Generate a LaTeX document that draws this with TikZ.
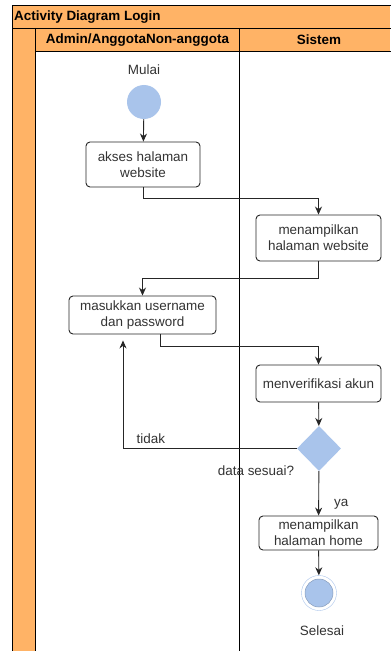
\documentclass[tikz,border=0pt]{standalone}
\usepackage{fontspec}
\setmainfont{Liberation Sans}
\usetikzlibrary{shapes.geometric,arrows.meta}
\definecolor{laneorange}{HTML}{FFB366}
\definecolor{stateblue}{HTML}{A9C4EB}
\definecolor{textgray}{HTML}{333333}
\tikzset{
  activity/.style={draw=black!85, fill=white, rounded corners=4bp, align=center,
    text=textgray, inner sep=0pt, line width=0.9bp},
  startdot/.style={circle, fill=stateblue, minimum size=34bp, inner sep=0pt},
  enddot/.style={circle, draw=stateblue, fill=white, minimum size=35bp, inner sep=0pt,
    path picture={\fill[stateblue] (path picture bounding box.center) circle (14bp);
      \draw[stateblue!80!black, line width=0.5bp] (path picture bounding box.center) circle (14bp);}},
  decision/.style={diamond, fill=stateblue, minimum width=44bp, minimum height=45bp, inner sep=0pt},
  flow/.style={-{Stealth[length=8bp,width=7bp]}, line width=0.9bp, black!85},
  caption/.style={text=textgray, inner sep=0pt},
  lanehead/.style={font=\fontsize{13.5}{16}\selectfont\bfseries, inner sep=0pt}
}
\begin{document}
\begin{tikzpicture}[x=1bp, y=-1bp, font=\fontsize{13.5}{16}\selectfont]
      \def\laneline{239}
      \def\poolbottom{652}

      \useasboundingbox (0, 0) rectangle (390, 651) ;
      \fill[white] (0, 0) rectangle (390, 651) ;

      \fill[laneorange] (12, 5) rectangle (390, 28) ;
      \fill[laneorange] (12, 28) rectangle (35, \poolbottom) ;
      \fill[laneorange] (35, 28) rectangle (390, 51) ;
      \draw[line width=0.9bp] (391, 5) -- (12, 5) -- (12, \poolbottom) ;
      \draw[line width=0.9bp] (12, 28) -- (391, 28) ;
      \draw[line width=0.9bp] (35, 28) -- (35, \poolbottom) ;
      \draw[line width=0.9bp] (35, 51) -- (391, 51) ;
      \draw[line width=0.9bp] (\laneline, 28) -- (\laneline, \poolbottom) ;

      \node[lanehead, anchor=west] (title) at (14, 17) {Activity Diagram Login} ;
      \node[lanehead] (laneuser) at (137.5, 40) {Admin/AnggotaNon-anggota} ;
      \node[lanehead] (lanesys) at (319, 40) {Sistem} ;

      \node[caption] (mulaitext) at (144, 70) {Mulai} ;
      \node[startdot] (mulai) at (144, 102) {} ;
      \node[activity, minimum width=114bp, minimum height=45bp] (akses) at (143, 164.5) {akses halaman\\website} ;
      \node[activity, minimum width=125bp, minimum height=46bp] (tampilweb) at (318.5, 238) {menampilkan\\halaman website} ;
      \node[activity, minimum width=147bp, minimum height=38bp] (masuk) at (142.5, 315) {masukkan username\\dan password} ;
      \node[activity, minimum width=125bp, minimum height=37bp] (verif) at (318.5, 383.5) {menverifikasi akun} ;
      \node[decision] (cek) at (319, 448.5) {} ;
      \node[caption] (sesuai) at (256, 471) {data sesuai?} ;
      \node[activity, minimum width=119bp, minimum height=34bp] (home) at (318.5, 533) {menampilkan\\halaman home} ;
      \node[enddot] (selesai) at (319, 593) {} ;
      \node[caption] (selesaitext) at (322, 631) {Selesai} ;

      \draw[flow] (mulai) -- (akses) ;
      \draw[flow] (akses.south) -- ++(0, 11) -| (tampilweb.north) ;
      \draw[flow] (tampilweb.south) -- ++(0, 17) -| (masuk.north) ;
      \draw[flow] ([xshift=17.5bp]masuk.south) -- ++(0, 12) -| (verif.north) ;
      \draw[flow] (verif) -- (cek) ;
      \draw[flow] (cek.west) -| ([xshift=-19.5bp, yshift=-6bp]masuk.south)
        node[caption, pos=0.42, anchor=south, yshift=4bp] {tidak} ;
      \draw[flow] (cek) -- (home) node[caption, pos=0.75, anchor=west, xshift=15bp] {ya} ;
      \draw[flow] (home) -- (selesai) ;
\end{tikzpicture}
\end{document}
